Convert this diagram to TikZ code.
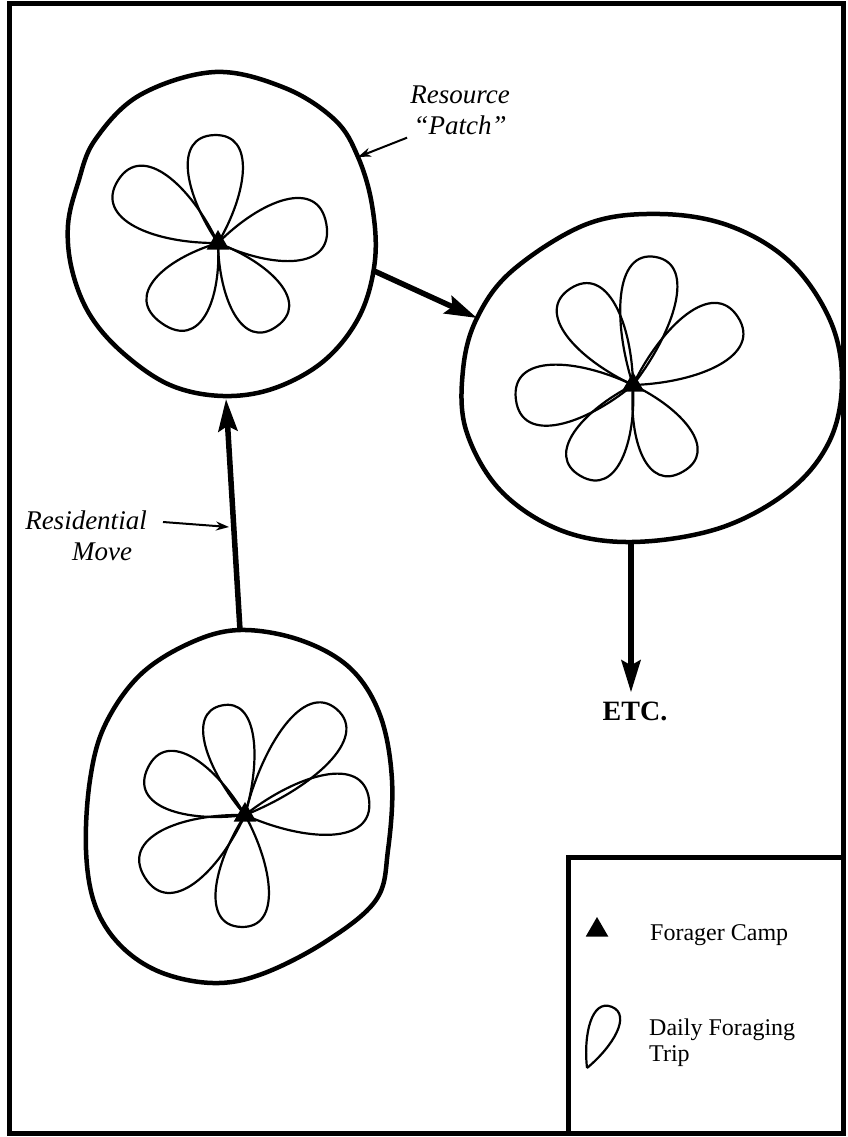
\documentclass[tikz,border=0pt]{standalone}
\usepackage{fontspec}
\setmainfont{Liberation Serif}
\usepackage{tikz}
\usetikzlibrary{shapes, arrows.meta, positioning, calc}

\tikzset{
  frame/.style={line width=5pt},
  patch/.style={line width=4.5pt, line join=round},
  trip/.style={line width=2.2pt, line join=round},
  camp/.style={regular polygon, regular polygon sides=3, fill=black, inner sep=0pt, minimum size=26pt},
  move/.style={line width=5.5pt, -{Stealth[length=32pt, width=19pt, inset=5pt]}},
  pointer/.style={line width=2pt, -{Stealth[length=13pt, width=9pt]}},
  notetext/.style={font=\fontsize{27}{31}\selectfont\itshape, align=center, inner sep=3pt},
  legendtext/.style={font=\fontsize{24}{26}\selectfont, align=left, inner sep=0pt},
  etctext/.style={font=\fontsize{28}{32}\selectfont\bfseries, inner sep=2pt},
}

% one daily trip: camp, direction, length, width
\newcommand{\foragetrip}[4]{%
  \draw[trip, shift={(#1)}, rotate=#2] (0,0) .. controls (0.45*#3, 0.5*#4) and (#3, 0.68*#4) .. (#3, 0)
    .. controls (#3, -0.68*#4) and (0.45*#3, -0.5*#4) .. (0,0);}

\begin{document}
\begin{tikzpicture}[x=1pt, y=-1pt]
  \useasboundingbox (0,0) rectangle (848,1137);
  \draw[frame] (9,4) rectangle (843,1133);

  % resource patches
  \draw[patch] plot[smooth cycle, tension=0.6] coordinates {
    (215,72) (285,88) (335,120) (358,157) (372,205) (375,260) (360,315) (325,360)
    (275,388) (223,396) (170,385) (123,353) (90,315) (72,270) (68,225) (78,183)
    (95,140) (140,95)};
  \draw[patch] plot[smooth cycle, tension=0.6] coordinates {
    (660,214) (730,226) (790,262) (830,320) (842,380) (830,440) (790,490) (720,528)
    (632,542) (560,530) (500,490) (466,430) (463,370) (477,318) (513,270) (587,224)};
  \draw[patch] plot[smooth cycle, tension=0.6] coordinates {
    (240,630) (300,640) (350,668) (380,715) (392,780) (388,850) (376,900) (325,942)
    (262,974) (213,983) (160,972) (120,945) (95,905) (86,850) (90,780) (105,725)
    (140,675) (190,643)};

  \coordinate (p1tag) at (358,157);
  \coordinate (p1bot) at (226,399);
  \coordinate (p1right) at (372,270);
  \coordinate (p2left) at (477,318);
  \coordinate (p2bot) at (631,542);
  \coordinate (p3top) at (240,630);
  \coordinate (moveside) at (229,527);
  \coordinate (restail) at (163,522);

  % camps and daily trips
  \node[camp] (camp1) at (218,243) {};
  \node[camp] (camp2) at (633,385) {};
  \node[camp] (camp3) at (245,815) {};
  \foreach \a/\l/\w in {92/108/62, 148/118/68, 10/110/70, 235/98/70, 305/102/62}
    \foragetrip{camp1}{\a}{\l}{\w};
  \foreach \a/\l/\w in {80/130/62, 123/115/65, 33/125/68, 187/118/68, 240/105/62, 300/100/62}
    \foragetrip{camp2}{\a}{\l}{\w};
  \foreach \a/\l/\w in {102/112/55, 154/108/65, 49/140/65, 7/125/68, 212/118/70, 268/112/60}
    \foragetrip{camp3}{\a}{\l}{\w};

  % residential moves
  \draw[move] (p3top) -- (p1bot);
  \draw[move] (p1right) -- (p2left);
  \node[etctext] (etc) at (635,711) {ETC.};
  \draw[move, shorten >=7pt] (p2bot) -- (p2bot |- etc.north);

  % labels
  \node[notetext] (resource) at (460,110) {Resource\\``Patch''};
  \draw[pointer] (resource.south west) -- (p1tag);
  \node[notetext] (resnote) at (86,536) {Residential\\\hspace*{1.2em}Move};
  \draw[pointer] (restail) -- (moveside);

  % legend
  \draw[frame] (568,857) rectangle (843,1133);
  \node[camp] (legcamp) at (597,930) {};
  \node[legendtext, anchor=base west] (legcamptext) at (650,940) {Forager Camp};
  \coordinate (legtrip) at (587,1068);
  \foragetrip{legtrip}{68}{66}{32}
  \node[legendtext, anchor=west] (legtriptext) at (649,1043) {Daily Foraging\\Trip};
\end{tikzpicture}
\end{document}
